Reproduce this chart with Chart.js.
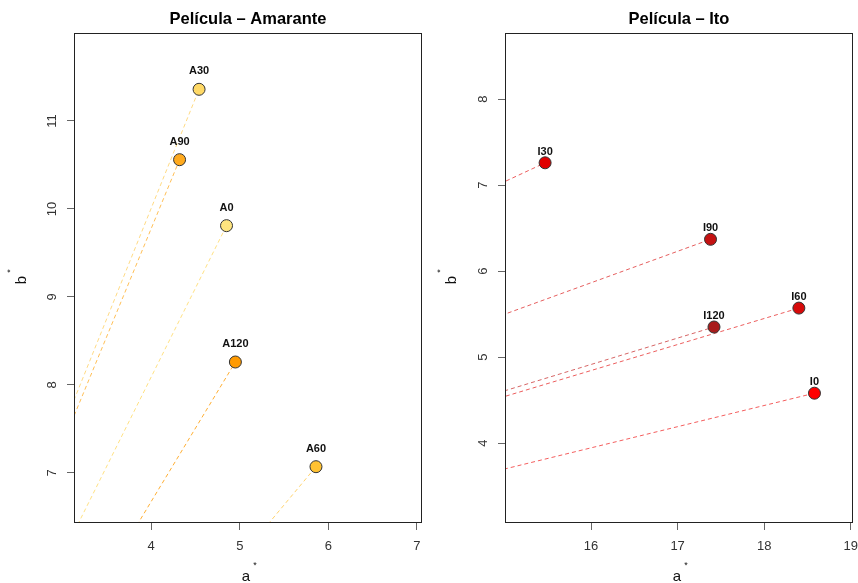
<!DOCTYPE html>
<html>
<head>
<meta charset="utf-8">
<script src="https://cdn.jsdelivr.net/npm/chart.js@4"></script>
<style>
  body { margin: 0; background: #fff; width: 858px; height: 583px; overflow: hidden; position: relative; }
  .box { position: absolute; top: 0; height: 583px; }
</style>
</head>
<body>
<div class="box" style="left:0;width:430px"><canvas id="chartA" width="430" height="583"></canvas></div>
<div class="box" style="left:430px;width:430px"><canvas id="chartI" width="430" height="583"></canvas></div>
<script>
// Amarante film
var labelsA = ['A0', 'A30', 'A60', 'A90', 'A120']
var aStarA = [4.85, 4.54, 5.86, 4.32, 4.95]
var bStarA = [9.81, 11.36, 7.07, 10.56, 8.26]
var colorsA = ['#FFE57F', '#FFD966', '#FFC233', '#FFAA1E', '#FF9A00']
var lineColorsA = ['rgba(255,215,90,0.75)', 'rgba(255,205,90,0.75)', 'rgba(255,195,60,0.75)', 'rgba(255,170,30,0.75)', 'rgba(255,155,0,0.8)']
var xTicksA = [4, 5, 6, 7]
var yTicksA = [7, 8, 9, 10, 11]

// Ito film
var labelsI = ['I0', 'I30', 'I60', 'I90', 'I120']
var aStarI = [18.58, 15.47, 18.40, 17.38, 17.42]
var bStarI = [4.58, 7.26, 5.57, 6.37, 5.35]
var colorsI = ['#FF0000', '#E00000', '#D60A0A', '#C41212', '#A81C1C']
var lineColorsI = ['rgba(240,40,40,0.75)', 'rgba(230,40,40,0.75)', 'rgba(230,40,40,0.75)', 'rgba(220,40,40,0.75)', 'rgba(200,50,50,0.75)']
var xTicksI = [16, 17, 18, 19]
var yTicksI = [4, 5, 6, 7, 8]

var FONT = '"Liberation Sans", Arial, Helvetica, sans-serif'

// frame, titles, rotated y labels and point labels (R base-graphics look)
var panelPlugin = {
  id: 'panel',
  afterDatasetsDraw(chart, args, opts) {
    const ctx = chart.ctx
    const a = chart.chartArea
    const x = chart.scales.x, y = chart.scales.y
    ctx.save()
    ctx.strokeStyle = '#222'
    ctx.lineWidth = 1
    ctx.strokeRect(a.left + 0.5, a.top + 0.5, a.right - a.left - 1, a.bottom - a.top - 1)

    ctx.textAlign = 'center'
    ctx.textBaseline = 'middle'

    // point labels
    ctx.font = 'bold 11px ' + FONT
    ctx.fillStyle = '#111'
    opts.labels.forEach((t, i) => {
      ctx.fillText(t, x.getPixelForValue(opts.a[i]), y.getPixelForValue(opts.b[i]) - opts.labelGap)
    })

    // y tick labels, rotated like R's las=0
    ctx.font = '13px ' + FONT
    ctx.fillStyle = '#333'
    y.ticks.forEach(t => {
      ctx.save()
      ctx.translate(a.left - 22, y.getPixelForValue(t.value))
      ctx.rotate(-Math.PI / 2)
      ctx.fillText(String(t.value), 0, 0)
      ctx.restore()
    })

    // main title
    const cx = (a.left + a.right) / 2
    ctx.font = 'bold 16.5px ' + FONT
    ctx.fillStyle = '#000'
    ctx.fillText(opts.title, cx, 19)

    // x axis title a*
    ctx.font = '15px ' + FONT
    ctx.fillStyle = '#111'
    ctx.fillText('a', cx - 2, 577)
    ctx.font = '9px ' + FONT
    ctx.fillText('*', cx + 7, 566)

    // y axis title b*
    const cy = (a.top + a.bottom) / 2
    ctx.save()
    ctx.translate(22, cy + 2)
    ctx.rotate(-Math.PI / 2)
    ctx.font = '15px ' + FONT
    ctx.fillText('b', 0, 0)
    ctx.font = '9px ' + FONT
    ctx.fillText('*', 9, -11)
    ctx.restore()

    ctx.restore()
  }
}

function makePanel(id, title, labels, aVals, bVals, colors, lineColors, xMin, xMax, yMin, yMax, xTicks, yTicks, yWidth, padRight, labelGap) {
  var datasets = []
  // points first so they sit on top of the lines
  datasets.push({
    type: 'scatter',
    data: aVals.map((v, i) => ({x: v, y: bVals[i]})),
    backgroundColor: colors,
    borderColor: '#333',
    borderWidth: 1,
    pointRadius: 6,
    pointHoverRadius: 6
  })
  // dashed hue lines running to the origin
  aVals.forEach((v, i) => {
    datasets.push({
      type: 'line',
      data: [{x: 0, y: 0}, {x: v, y: bVals[i]}],
      borderColor: lineColors[i],
      borderWidth: 1,
      borderDash: [4, 3],
      pointRadius: 0,
      fill: false
    })
  })

  return new Chart(document.getElementById(id), {
    data: {datasets: datasets},
    options: {
      responsive: false,
      animation: false,
      layout: {padding: {top: 33, right: padRight, bottom: 0, left: 0}},
      plugins: {
        legend: {display: false},
        tooltip: {enabled: false},
        panel: {title: title, labels: labels, a: aVals, b: bVals, labelGap: labelGap}
      },
      scales: {
        x: {
          type: 'linear',
          min: xMin,
          max: xMax,
          afterBuildTicks: s => { s.ticks = xTicks.map(v => ({value: v})) },
          afterFit: s => { s.height = 60; s.paddingLeft = 0; s.paddingRight = 0 },
          ticks: {color: '#333', font: {size: 13, family: FONT}, padding: 9, maxRotation: 0},
          grid: {drawOnChartArea: false, drawTicks: true, tickLength: 7, color: '#666'},
          border: {display: false}
        },
        y: {
          type: 'linear',
          min: yMin,
          max: yMax,
          afterBuildTicks: s => { s.ticks = yTicks.map(v => ({value: v})) },
          afterFit: s => { s.width = yWidth; s.paddingTop = 0; s.paddingBottom = 0 },
          ticks: {display: false},
          grid: {drawOnChartArea: false, drawTicks: true, tickLength: 7, color: '#666'},
          border: {display: false}
        }
      }
    },
    plugins: [panelPlugin]
  })
}

makePanel('chartA', 'Película – Amarante', labelsA, aStarA, bStarA, colorsA, lineColorsA,
  3.128, 7.057, 6.43, 12.0, xTicksA, yTicksA, 74, 8, 18)
makePanel('chartI', 'Película – Ito', labelsI, aStarI, bStarI, colorsI, lineColorsI,
  15.007, 19.025, 3.07, 8.77, xTicksI, yTicksI, 75, 4, 11)
</script>
</body>
</html>
